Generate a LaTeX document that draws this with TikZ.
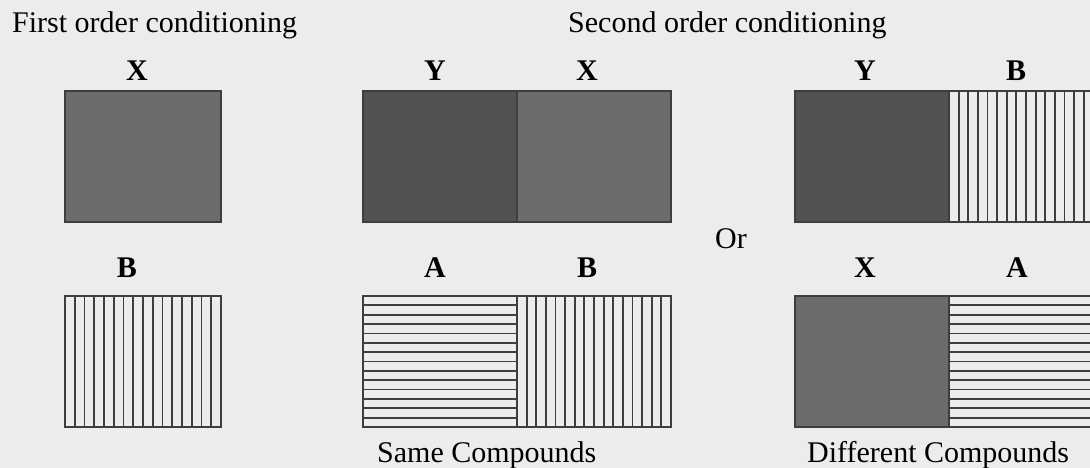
\documentclass[tikz,border=0pt]{standalone}
\usepackage{fontspec}
\setmainfont{Liberation Serif}
\usepackage{xcolor}
\usetikzlibrary{calc}

\definecolor{paper}{RGB}{236,236,236}
\definecolor{ink}{RGB}{62,62,62}
\definecolor{cuegray}{RGB}{108,108,108}
\definecolor{cuedark}{RGB}{82,82,82}

\begin{document}
\begin{tikzpicture}[
  x=1pt, y=-1pt,
  cell/.style={draw=ink, line width=1.8pt, inner sep=0pt, minimum width=154pt, minimum height=131pt},
  solidcell/.style={cell, fill=#1},
  vstripe/.style={cell, fill=paper, path picture={
    \foreach \i in {1,...,15}
      \draw[stripeline] ($(path picture bounding box.north west)!\i/16!(path picture bounding box.north east)$)
        -- ($(path picture bounding box.south west)!\i/16!(path picture bounding box.south east)$);
  }},
  hstripe/.style={cell, fill=paper, path picture={
    \foreach \i in {1,...,13}
      \draw[stripeline] ($(path picture bounding box.north west)!\i/14!(path picture bounding box.south west)$)
        -- ($(path picture bounding box.north east)!\i/14!(path picture bounding box.south east)$);
  }},
  stripeline/.style={draw=ink, line width=1.8pt},
  cue/.style={font=\fontsize{30}{34}\selectfont\bfseries, anchor=base, inner sep=0pt},
  heading/.style={font=\fontsize{30}{34}\selectfont, anchor=base west, inner sep=0pt}
]
\clip (0,0) rectangle (1090,468);
\fill [paper] (0,0) rectangle (1090,468);

% headings
\node [heading] (first) at (12,33) {First order conditioning};
\node [heading] (second) at (568,33) {Second order conditioning};
\node [heading] (or) at (715,248) {Or};
\node [heading] (same) at (377,462) {Same Compounds};
\node [heading] (diff) at (807,462) {Different Compounds};

% first order
\node [solidcell=cuegray, minimum width=156pt] (fx) at (143,156.5) {};
\node [vstripe, minimum width=156pt] (fb) at (143,361.5) {};
\node [cue] (fxlab) at (137,81) {X};
\node [cue] (fblab) at (127,277) {B};

% second order, same compounds
\node [solidcell=cuedark] (sy) at (440,156.5) {};
\node [solidcell=cuegray] (sx) at (594,156.5) {};
\node [hstripe] (sa) at (440,361.5) {};
\node [vstripe] (sb) at (594,361.5) {};
\node [cue] (sylab) at (435,81) {Y};
\node [cue] (sxlab) at (587,81) {X};
\node [cue] (salab) at (435,277) {A};
\node [cue] (sblab) at (587,277) {B};

% second order, different compounds
\node [solidcell=cuedark] (dy) at (872,156.5) {};
\node [vstripe] (db) at (1026,156.5) {};
\node [solidcell=cuegray] (dx) at (872,361.5) {};
\node [hstripe] (da) at (1026,361.5) {};
\node [cue] (dylab) at (865,81) {Y};
\node [cue] (dblab) at (1016,81) {B};
\node [cue] (dxlab) at (865,277) {X};
\node [cue] (dalab) at (1017,277) {A};
\end{tikzpicture}
\end{document}
